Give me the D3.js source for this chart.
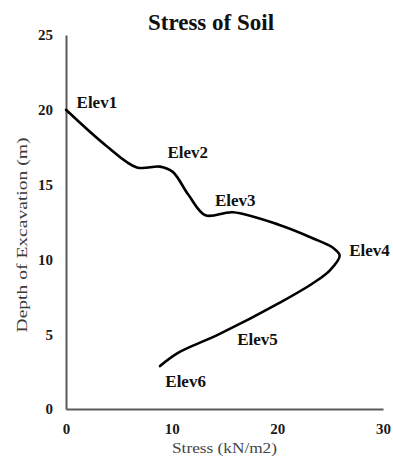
<!DOCTYPE html>
<html>
<head>
<meta charset="utf-8">
<script src="https://cdn.jsdelivr.net/npm/d3@7"></script>
<style>
  body { margin: 0; background: #fff; }
  text { font-family: "Liberation Serif", "Times New Roman", serif; }
</style>
</head>
<body>
<svg id="chart" width="393" height="456"></svg>
<script>
// stress (kN/m2) vs depth (m)
var stress = [0, 3.8, 6.7, 8.9, 10.1, 11.6, 13.2, 15.8, 20.2, 23.4, 25.3, 25.9, 25.0, 23.4, 20.2, 14.5, 10.6, 8.9];
var depth  = [20, 17.6, 16.15, 16.2, 15.85, 14.3, 12.95, 13.15, 12.3, 11.4, 10.76, 10.25, 9.29, 8.42, 7.09, 5.0, 3.75, 2.87];

// elevation labels (data coords of text start / baseline)
var elevNames = ["Elev1", "Elev2", "Elev3", "Elev4", "Elev5", "Elev6"];
var elevX = [1.0, 9.6, 14.1, 26.8, 16.2, 9.4];
var elevY = [20.1, 16.8, 13.6, 10.2, 4.3, 1.5];

var xTicks = [0, 10, 20, 30];
var yTicks = [0, 5, 10, 15, 20, 25];

var svg = d3.select("svg#chart"),
  width = +svg.attr("width"),
  height = +svg.attr("height");

var x = d3.scaleLinear().domain([0, 30]).range([66, 383]);
var y = d3.scaleLinear().domain([0, 25]).range([409, 35]);

var axisColor = "#595959";

// title
svg.append("text")
  .attr("x", 211)
  .attr("y", 30)
  .attr("text-anchor", "middle")
  .attr("font-size", 23)
  .attr("font-weight", "bold")
  .attr("fill", "#111")
  .text("Stress of Soil");

// axes (no tick marks, just lines and bold labels)
var xAxis = svg.append("g")
  .attr("transform", "translate(0," + y(0) + ")")
  .call(d3.axisBottom(x).tickValues(xTicks).tickSize(0).tickPadding(14));

var yAxis = svg.append("g")
  .attr("transform", "translate(" + x(0) + ",0)")
  .call(d3.axisLeft(y).tickValues(yTicks).tickSize(0).tickPadding(13));

[xAxis, yAxis].forEach(function(g) {
  g.select(".domain").attr("stroke", axisColor).attr("stroke-width", 2);
  g.selectAll("text")
    .attr("font-family", "Liberation Serif, Times New Roman, serif")
    .attr("font-size", 15)
    .attr("font-weight", "bold")
    .attr("fill", "#1a1a1a");
});

// axis titles
svg.append("text")
  .attr("x", x(15))
  .attr("y", 453)
  .attr("text-anchor", "middle")
  .attr("font-size", 15)
  .attr("fill", "#444")
  .attr("textLength", 105)
  .attr("lengthAdjust", "spacingAndGlyphs")
  .text("Stress (kN/m2)");

svg.append("text")
  .attr("transform", "translate(27,235) rotate(-90)")
  .attr("text-anchor", "middle")
  .attr("font-size", 15)
  .attr("fill", "#3a3a3a")
  .attr("textLength", 195)
  .attr("lengthAdjust", "spacingAndGlyphs")
  .text("Depth of Excavation (m)");

// the curve
var pts = stress.map(function(d, i) { return [d, depth[i]]; });

var line = d3.line()
  .x(function(d) { return x(d[0]); })
  .y(function(d) { return y(d[1]); })
  .curve(d3.curveCatmullRom.alpha(0.5));

svg.append("path")
  .datum(pts)
  .attr("fill", "none")
  .attr("stroke", "#000")
  .attr("stroke-width", 2.6)
  .attr("stroke-linecap", "round")
  .attr("d", line);

// Elev labels
svg.append("g")
  .selectAll("text")
  .data(elevNames)
  .enter().append("text")
  .attr("x", function(d, i) { return x(elevX[i]); })
  .attr("y", function(d, i) { return y(elevY[i]); })
  .attr("font-size", 17)
  .attr("font-weight", "bold")
  .attr("fill", "#111")
  .text(function(d) { return d; });
</script>
</body>
</html>
